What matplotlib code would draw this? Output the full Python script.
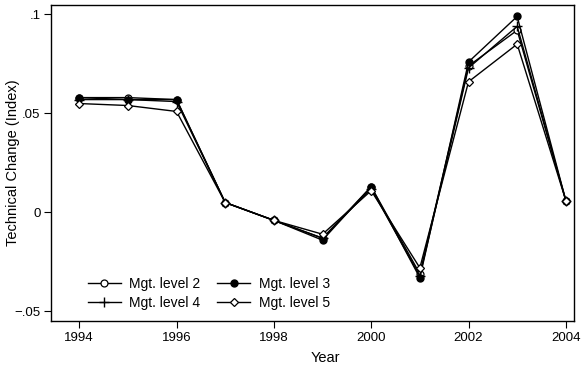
import matplotlib
matplotlib.use("Agg")
import matplotlib.pyplot as plt

years = [1994, 1995, 1996, 1997, 1998, 1999, 2000, 2001, 2002, 2003, 2004]
level2 = [0.058, 0.058, 0.057, 0.005, -0.004, -0.013, 0.013, -0.031, 0.074, 0.092, 0.006]
level3 = [0.058, 0.057, 0.057, 0.005, -0.004, -0.014, 0.013, -0.033, 0.076, 0.099, 0.006]
level4 = [0.057, 0.057, 0.056, 0.005, -0.004, -0.013, 0.012, -0.032, 0.073, 0.094, 0.006]
level5 = [0.055, 0.054, 0.051, 0.005, -0.004, -0.011, 0.011, -0.028, 0.066, 0.085, 0.006]

yticks = [-0.05, 0, 0.05, 0.1]
ytick_labels = ["\u2212.05", "0", ".05", ".1"]
xticks = [1994, 1996, 1998, 2000, 2002, 2004]

plt.rcParams["font.family"] = ["Liberation Sans", "DejaVu Sans"]

fig = plt.figure(figsize=(5.82, 3.67), dpi=100)
ax = fig.add_axes([0.0876, 0.125, 0.898, 0.861])

lw = 1.0
h2, = ax.plot(years, level2, color="black", lw=lw, marker="o", ms=5, mfc="white", mec="black", mew=0.9, label="Mgt. level 2")
h3, = ax.plot(years, level3, color="black", lw=lw, marker="o", ms=5, mfc="black", mec="black", label="Mgt. level 3")
h4, = ax.plot(years, level4, color="black", lw=lw, marker="+", ms=7, mew=1.0, label="Mgt. level 4")
h5, = ax.plot(years, level5, color="black", lw=lw, marker="D", ms=4.5, mfc="white", mec="black", mew=0.9, label="Mgt. level 5")

ax.set_xlim(1993.42, 2004.16)
ax.set_ylim(-0.0549, 0.1047)
ax.set_xticks(xticks)
ax.set_yticks(yticks)
ax.set_yticklabels(ytick_labels)
ax.tick_params(direction="out", length=5, width=0.8, labelsize=9.5, pad=2.5)
ax.set_xlabel("Year", fontsize=10.5)
ax.xaxis.set_label_coords(0.525, -0.095)
ax.set_ylabel("Technical Change (Index)", fontsize=10.5, va="center")
ax.yaxis.set_label_coords(-0.073, 0.5)
for s in ax.spines.values():
    s.set_linewidth(1.0)

# row-wise order like the original: 2, 3 / 4, 5
handles = [h2, h4, h3, h5]
ax.legend(handles=handles, labels=[h.get_label() for h in handles], ncol=2,
          loc="lower left", bbox_to_anchor=(0.07, 0.035), frameon=False,
          borderpad=0, borderaxespad=0,
          fontsize=10, handlelength=2.4, columnspacing=1.2, labelspacing=0.4,
          handletextpad=0.6)

fig.savefig("out.png", dpi=100)
